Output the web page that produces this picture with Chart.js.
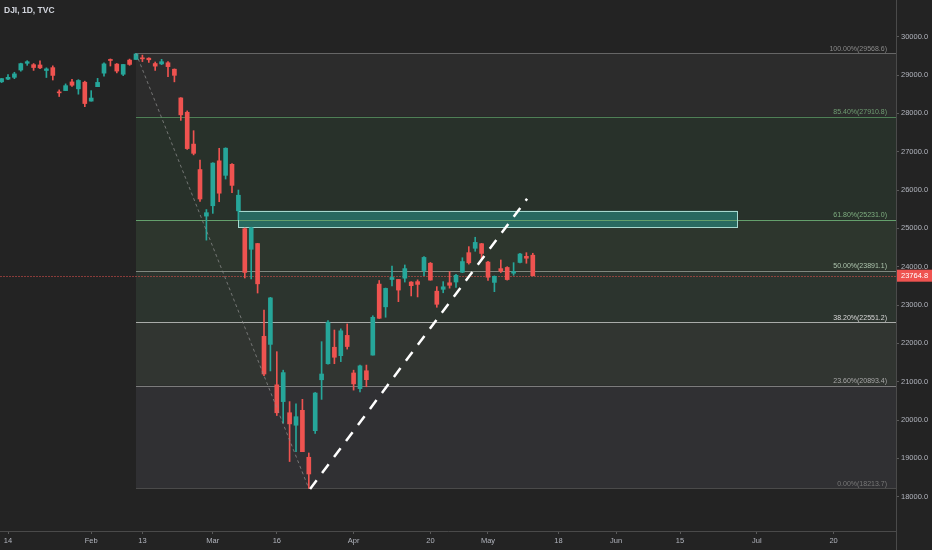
<!DOCTYPE html>
<html><head><meta charset="utf-8">
<script src="https://cdn.jsdelivr.net/npm/chart.js@4.4.1/dist/chart.umd.min.js"></script>
<style>
html,body{margin:0;padding:0;background:#232323;overflow:hidden}
#wrap{width:932px;height:550px;position:relative}
canvas{display:block}
#title{position:absolute;left:4px;top:5px;font:bold 8.5px "Liberation Sans",Arial,sans-serif;color:#d1d4dc;letter-spacing:0}
</style>
</head><body>
<div id="wrap"><canvas id="c" width="932" height="550"></canvas><div id="title">DJI, 1D, TVC</div></div>
<script>
// ---- data ----
const dates = ['Jan 13','Jan 14','Jan 15','Jan 16','Jan 17','Jan 21','Jan 22','Jan 23','Jan 24','Jan 27','Jan 28','Jan 29','Jan 30','Jan 31',
 'Feb 3','Feb 4','Feb 5','Feb 6','Feb 7','Feb 10','Feb 11','Feb 12','Feb 13','Feb 14','Feb 18','Feb 19','Feb 20','Feb 21','Feb 24','Feb 25','Feb 26','Feb 27','Feb 28',
 'Mar 2','Mar 3','Mar 4','Mar 5','Mar 6','Mar 9','Mar 10','Mar 11','Mar 12','Mar 13','Mar 16','Mar 17','Mar 18','Mar 19','Mar 20','Mar 23','Mar 24','Mar 25','Mar 26','Mar 27','Mar 30','Mar 31',
 'Apr 1','Apr 2','Apr 3','Apr 6','Apr 7','Apr 8','Apr 9','Apr 13','Apr 14','Apr 15','Apr 16','Apr 17','Apr 20','Apr 21','Apr 22','Apr 23','Apr 24','Apr 27','Apr 28','Apr 29','Apr 30',
 'May 1','May 4','May 5','May 6','May 7','May 8','May 11','May 12'];
const opens = [28823,28892,28940,29131,29306,29270,29263,29118,29193,28542,28594,28820,28640,28813,
 28319,28696,29049,29400,29286,29020,29390,29406,29440,29440,29300,29290,29320,29152,28403,28029,27198,26534,25320,
 25590,26762,26383,26671,25457,24992,24454,24604,22184,21973,20918,20480,20190,19863,20253,19028,19722,21050,21468,21898,21678,22208,
 21227,20819,21285,21693,23546,22953,23666,23667,23700,23600,23610,23900,24090,23361,23410,23580,23600,23855,24366,24480,24600,
 24120,23590,23950,23980,23830,24110,24270,24300];
const highs = [28910,29009,29072,29310,29374,29300,29373,29188,29240,28612,28769,28891,28880,28840,
 28593,28913,29320,29420,29300,29277,29416,29569,29520,29450,29340,29409,29350,29160,28410,28064,27548,26780,25491,
 26713,27089,27102,26690,26000,25010,25030,24610,22870,23201,21783,21300,20480,20420,20540,19140,20719,22044,22596,22348,22378,22505,
 21300,21432,21433,22720,23640,23443,24019,23668,24045,23610,23656,24264,24110,23480,23610,23870,23800,24234,24523,24768,24610,
 24140,23760,24175,24000,24105,24347,24366,24350];
const lows = [28803,28879,28905,29100,29253,29121,29163,28935,28870,28440,28594,28705,28500,28174,
 28319,28696,28969,29235,29056,28985,29254,29406,29350,29329,29120,29270,28956,28822,27817,27059,26917,25700,24693,
 25391,25695,26286,25930,25227,23705,23680,23313,21154,21280,20117,19922,18917,19173,19174,18214,19649,20538,21456,21469,21523,21850,
 20780,20735,20868,21693,22648,22681,23496,23088,23599,23237,23211,23765,23647,22941,23320,23440,23460,23845,24067,24402,24196,
 23645,23348,23847,23650,23776,24100,24089,23758];
const closes = [28907,28940,29030,29298,29348,29196,29186,29160,28990,28535,28723,28734,28859,28256,
 28400,28808,29291,29380,29103,29276,29277,29551,29423,29398,29232,29348,29219,28992,27961,27081,26957,25766,25409,
 26703,25917,27091,26121,25864,23851,25018,23553,21200,23186,20189,21237,19899,20087,19174,18592,20704,21200,22552,21637,22327,21917,
 20943,21413,21052,22680,22654,23434,23719,23390,23950,23505,23538,24242,23650,23019,23475,23515,23775,24134,24101,24634,24346,
 23724,23749,23883,23664,23875,24331,24221,23765];

// x ticks (trading-day index) and labels
const xTickIdx = [1,14,22,33,43,55,67,76,87,96,106,118,130];
const xTickLabels = ['14','Feb','13','Mar','16','Apr','20','May','18','Jun','15','Jul','20'];
const yTicks = [18000,19000,20000,21000,22000,23000,24000,25000,26000,27000,28000,29000,30000];

// Fibonacci retracement (Feb 12 high -> Mar 23 low)
const fibPct = [1, 0.854, 0.618, 0.5, 0.382, 0.236, 0];
const fibVal = [29568.6, 27910.8, 25231.0, 23891.1, 22551.2, 20893.4, 18213.7];
const fibStartIdx = 21;
// drawings
const swingLine = [{x:21, y:29568.6},{x:48, y:18213.7}];
const trendLine = [{x:48.2, y:18200},{x:82.1, y:25770}];
const zoneIdx = [37, 115];
const zoneVal = [25030, 25460];
const lastPrice = 23764.8;

// ---- styles ----
const UP = '#26a69a', DOWN = '#ef5350';
const fibLineColors = ['#666666','#4f7f56','#64a06c','#7f877f','#a9aba9','#7c7c7c','#4a4a4a'];
const fibLabelColors = ['#8a8a8a','#6f9c72','#7fae80','#adc4ad','#d8d8d8','#a8a8a8','#777777'];
const fibFills = ['#2c2c2c','#28312a','#2d362d','#2c342e','#313531','#303033'];
const FONT = '"Liberation Sans", Arial, sans-serif';

const idx = opens.map((_, i) => i);
const candleColors = idx.map(i => closes[i] >= opens[i] ? UP : DOWN);

const fibPlugin = {
  id: 'fib',
  beforeDraw(chart) {
    const ctx = chart.ctx;
    ctx.save();
    ctx.fillStyle = '#232323';
    ctx.fillRect(0, 0, chart.width, chart.height);
    ctx.restore();
  },
  beforeDatasetsDraw(chart) {
    const {ctx, chartArea: a, scales: {x, y}} = chart;
    ctx.save();
    ctx.beginPath(); ctx.rect(a.left, a.top, a.right - a.left, a.bottom - a.top); ctx.clip();
    const xs = x.getPixelForValue(fibStartIdx), xe = a.right;
    for (let i = 0; i < fibVal.length - 1; i++) {
      const y1 = y.getPixelForValue(fibVal[i]), y2 = y.getPixelForValue(fibVal[i+1]);
      ctx.fillStyle = fibFills[i];
      ctx.fillRect(xs, y1, xe - xs, y2 - y1);
    }
    const rx1 = x.getPixelForValue(zoneIdx[0]), rx2 = x.getPixelForValue(zoneIdx[1]);
    const ry1 = y.getPixelForValue(zoneVal[1]), ry2 = y.getPixelForValue(zoneVal[0]);
    ctx.fillStyle = 'rgba(38,150,140,0.55)';
    ctx.fillRect(rx1, ry1, rx2 - rx1, ry2 - ry1);
    fibVal.forEach((v, i) => {
      const yy = Math.round(y.getPixelForValue(v)) + 0.5;
      ctx.strokeStyle = fibLineColors[i];
      ctx.lineWidth = 1;
      ctx.beginPath(); ctx.moveTo(xs, yy); ctx.lineTo(xe, yy); ctx.stroke();
    });
    ctx.strokeStyle = '#a6d8cf';
    ctx.lineWidth = 1;
    ctx.strokeRect(Math.round(rx1) + 0.5, Math.round(ry1) + 0.5, Math.round(rx2 - rx1), Math.round(ry2 - ry1));
    const py = Math.round(y.getPixelForValue(lastPrice)) + 0.5;
    ctx.strokeStyle = 'rgba(239,83,80,0.5)';
    ctx.setLineDash([2, 1]);
    ctx.beginPath(); ctx.moveTo(a.left, py); ctx.lineTo(a.right, py); ctx.stroke();
    ctx.restore();
  },
  afterDatasetsDraw(chart) {
    const {ctx, scales: {y}} = chart;
    ctx.save();
    ctx.font = '7px ' + FONT;
    ctx.textAlign = 'right';
    ctx.textBaseline = 'bottom';
    fibVal.forEach((v, i) => {
      const yy = y.getPixelForValue(v);
      const label = (fibPct[i] * 100).toFixed(2) + '%(' + v.toFixed(1) + ')';
      ctx.fillStyle = fibLabelColors[i];
      ctx.fillText(label, 887, yy - 1);
    });
    ctx.restore();
  },
  afterDraw(chart) {
    const {ctx, chartArea: a, scales: {y}} = chart;
    ctx.save();
    ctx.strokeStyle = '#4a4a4a';
    ctx.lineWidth = 1;
    ctx.beginPath(); ctx.moveTo(a.right + 0.5, a.bottom); ctx.lineTo(a.right + 0.5, chart.height); ctx.stroke();
    const py = y.getPixelForValue(lastPrice);
    ctx.fillStyle = '#ef5350';
    ctx.fillRect(a.right + 1, py - 6, chart.width - a.right - 1, 12);
    ctx.fillStyle = '#ffffff';
    ctx.font = '7.5px ' + FONT;
    ctx.textAlign = 'left';
    ctx.textBaseline = 'middle';
    ctx.fillText(lastPrice.toFixed(1), a.right + 5, py + 0.5);
    ctx.restore();
  }
};

new Chart(document.getElementById('c'), {
  type: 'bar',
  data: {
    datasets: [
      { type: 'line', data: trendLine, borderColor: '#ffffff', borderWidth: 2.5, borderDash: [11, 9],
        pointRadius: 0, order: 0, parsing: false },
      { type: 'line', data: swingLine, borderColor: 'rgba(140,140,140,0.75)', borderWidth: 1, borderDash: [3, 3],
        pointRadius: 0, order: 0, parsing: false },
      { type: 'bar', data: idx.map(i => ({x: i, y: [opens[i], closes[i]]})), backgroundColor: candleColors,
        barThickness: 4, minBarLength: 1, grouped: false, order: 1 },
      { type: 'bar', data: idx.map(i => ({x: i, y: [lows[i], highs[i]]})), backgroundColor: candleColors,
        barThickness: 1, grouped: false, order: 2 }
    ]
  },
  options: {
    responsive: false,
    animation: false,
    devicePixelRatio: 1,
    layout: { padding: 0 },
    plugins: { legend: { display: false }, tooltip: { enabled: false }, title: { display: false } },
    scales: {
      x: {
        type: 'linear', offset: false, min: -0.25, max: 139.75, position: 'bottom',
        afterFit(s) { s.height = 19; s.paddingLeft = 0; s.paddingRight = 0; },
        afterBuildTicks(s) { s.ticks = xTickIdx.map(v => ({value: v})); },
        grid: { display: true, offset: false, drawOnChartArea: false, drawTicks: true, tickLength: 3, color: '#5a5a5a' },
        border: { display: true, color: '#4a4a4a' },
        ticks: { autoSkip: false, maxRotation: 0, padding: 2, color: '#b2b5be', font: { size: 7.5, family: FONT },
          callback(v) { const k = xTickIdx.indexOf(v); return k >= 0 ? xTickLabels[k] : ''; } }
      },
      y: {
        type: 'linear', position: 'right', min: 17104.5, max: 30957.5,
        afterFit(s) { s.width = 36; s.paddingTop = 0; s.paddingBottom = 0; },
        afterBuildTicks(s) { s.ticks = yTicks.map(v => ({value: v})); },
        grid: { display: true, offset: false, drawOnChartArea: false, drawTicks: true, tickLength: 3, color: '#5a5a5a' },
        border: { display: true, color: '#4a4a4a' },
        ticks: { padding: 2, color: '#b2b5be', font: { size: 7.5, family: FONT }, callback(v) { return Number(v).toFixed(1); } }
      }
    }
  },
  plugins: [fibPlugin]
});
</script>
</body></html>
